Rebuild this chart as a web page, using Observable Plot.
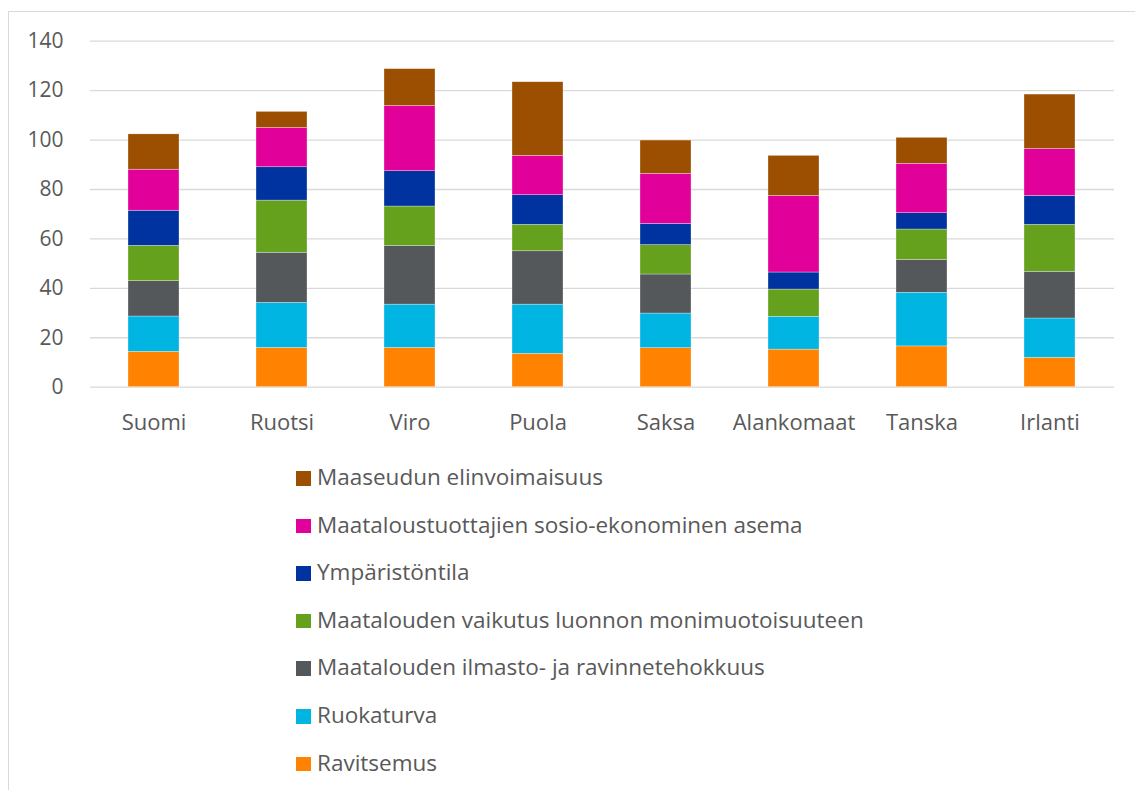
<!DOCTYPE html>
<html>
<head>
<meta charset="utf-8">
<script src="https://cdn.jsdelivr.net/npm/d3@7"></script>
<script src="https://cdn.jsdelivr.net/npm/@observablehq/plot@0.6"></script>
<style>
  html, body { margin: 0; padding: 0; background: #fff; }
  body { width: 1135px; height: 790px; position: relative; overflow: hidden; font-family: "Open Sans", "Noto Sans", sans-serif; }
  #frame { position: absolute; left: 8px; top: 11px; width: 1200px; height: 900px; border: 1px solid #d9d9d9; box-sizing: border-box; }
  #chart { position: absolute; left: 0; top: 0; }
  #legend { position: absolute; left: 296px; top: 462px; }
  .item { position: absolute; left: 0; white-space: nowrap; font-size: 22.5px; color: #595959; line-height: 30px; height: 30px; }
  .sw { position: absolute; left: 0; top: 9px; width: 15px; height: 14.5px; }
  .lab { position: absolute; left: 21px; top: 0; }
</style>
</head>
<body>
<div id="frame"></div>
<div id="chart"></div>
<div id="legend"></div>
<script>
const countries = ["Suomi", "Ruotsi", "Viro", "Puola", "Saksa", "Alankomaat", "Tanska", "Irlanti"];
const seriesNames = [
  "Ravitsemus",
  "Ruokaturva",
  "Maatalouden ilmasto- ja ravinnetehokkuus",
  "Maatalouden vaikutus luonnon monimuotoisuuteen",
  "Ympäristöntila",
  "Maataloustuottajien sosio-ekonominen asema",
  "Maaseudun elinvoimaisuus"
];
const seriesColors = ["#FF8200", "#00B5E2", "#54585A", "#66A11E", "#0033A0", "#E2009A", "#9C4F00"];
const ravitsemus   = [14.3, 15.9, 15.9, 13.5, 15.8, 15.2, 16.5, 11.9];
const ruokaturva   = [14.3, 18.2, 17.5, 19.9, 14.0, 13.3, 21.7, 15.9];
const ilmasto      = [14.3, 20.3, 23.7, 21.6, 15.8,  0.0, 13.3, 18.9];
const luonto       = [14.3, 21.1, 16.0, 10.7, 11.9, 11.0, 12.3, 19.0];
const ymparisto    = [14.2, 13.5, 14.3, 12.0,  8.6,  6.9,  6.6, 11.7];
const sosio        = [16.6, 15.9, 26.4, 15.9, 20.2, 31.0, 20.0, 19.0];
const maaseutu     = [14.3,  6.5, 14.9, 29.8, 13.5, 16.2, 10.5, 22.0];
const yTicks = [0, 20, 40, 60, 80, 100, 120, 140];

const seriesValues = [ravitsemus, ruokaturva, ilmasto, luonto, ymparisto, sosio, maaseutu];
const data = [];
seriesNames.forEach((s, i) => {
  countries.forEach((c, j) => data.push({country: c, series: s, value: seriesValues[i][j]}));
});

const chart = Plot.plot({
  width: 1135,
  height: 450,
  marginLeft: 90,
  marginRight: 21,
  marginTop: 40.7,
  marginBottom: 63.3,
  style: { fontFamily: "'Open Sans', 'Noto Sans', sans-serif", fontSize: "21px", color: "#595959", background: "transparent" },
  x: { domain: countries, paddingInner: 0.6, paddingOuter: 0.3, label: null },
  y: { domain: [0, 140], label: null },
  color: { domain: seriesNames, range: seriesColors },
  marks: [
    Plot.ruleY(yTicks, { stroke: "#d9d9d9", strokeWidth: 1.3 }),
    Plot.barY(data, Plot.stackY({ order: seriesNames }, {
      x: "country", y: "value", z: "series", fill: "series",
      stroke: "#ffffff", strokeOpacity: 0.5, strokeWidth: 0.6
    })),
    Plot.axisX({ tickSize: 0, tickPadding: 27, fontSize: 22, fill: "#595959", label: null }),
    Plot.axisY({ ticks: yTicks, tickSize: 0, tickPadding: 27, fontSize: 21, fill: "#595959", label: null, tickFormat: d => String(d) })
  ]
});
document.getElementById("chart").appendChild(chart);

const legend = document.getElementById("legend");
const order = seriesNames.map((s, i) => i).reverse();
order.forEach((idx, k) => {
  const item = document.createElement("div");
  item.className = "item";
  item.style.top = (k * 47.6) + "px";
  const sw = document.createElement("div");
  sw.className = "sw";
  sw.style.background = seriesColors[idx];
  const lab = document.createElement("span");
  lab.className = "lab";
  lab.textContent = seriesNames[idx];
  item.appendChild(sw);
  item.appendChild(lab);
  legend.appendChild(item);
});
</script>
</body>
</html>
